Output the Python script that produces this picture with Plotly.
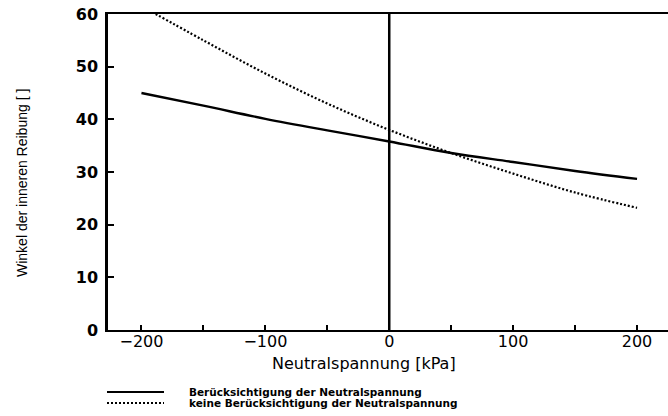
import plotly.graph_objects as go

# Data
neutralspannung = [-200, -150, -100, -50, 0, 50, 100, 150, 200]
mit_neutral = [45.0, 42.6, 40.1, 37.9, 35.8, 33.6, 31.9, 30.2, 28.7]
ohne_neutral = [61.5, 55.0, 48.7, 43.0, 38.0, 33.6, 29.7, 26.1, 23.2]
zero_x = [0, 0]
zero_y = [0, 60]

legend_labels = ["Berücksichtigung der Neutralspannung",
                 "keine Berücksichtigung der Neutralspannung"]

W, H = 668, 416
ml, mr, mt, mb = 108, 0, 14, 86
pw, ph = W - ml - mr, H - mt - mb

def px_x(p):
    return (p - ml) / pw

def px_y(p):
    return (H - mb - p) / ph

fig = go.Figure()
fig.add_trace(go.Scatter(x=zero_x, y=zero_y, mode="lines",
                         line=dict(color="black", width=2.5), showlegend=False, hoverinfo="skip"))
fig.add_trace(go.Scatter(x=neutralspannung, y=ohne_neutral, mode="lines",
                         line=dict(color="black", width=2.2, dash="2px,2px", shape="spline"),
                         name=legend_labels[1], showlegend=False))
fig.add_trace(go.Scatter(x=neutralspannung, y=mit_neutral, mode="lines",
                         line=dict(color="black", width=2.4, shape="spline"),
                         name=legend_labels[0], showlegend=False))

fig.update_xaxes(range=[-227, 225], tick0=0, dtick=100, ticks="inside", ticklen=5,
                 tickwidth=1.5, tickcolor="black", showline=True, linecolor="black",
                 linewidth=2, mirror=True, showgrid=False, zeroline=False,
                 ticklabelstandoff=-4,
                 minor=dict(dtick=50, ticks="inside", ticklen=5, tickwidth=1.5, tickcolor="black"),
                 tickfont=dict(family="DejaVu Sans", size=16, color="black"))
fig.update_yaxes(range=[0, 60], dtick=10, ticks="inside", ticklen=6, tickwidth=1.5,
                 tickcolor="black", showline=True, linecolor="black", linewidth=2.5,
                 showgrid=False, zeroline=False, ticklabelstandoff=4,
                 tickfont=dict(family="DejaVu Sans", size=16, color="black", weight="bold"))

annotations = [
    dict(text="Neutralspannung [kPa]", xref="paper", yref="paper", x=px_x(364), y=px_y(363),
         xanchor="center", yanchor="middle", showarrow=False,
         font=dict(family="DejaVu Sans", size=16, color="black")),
    dict(text="Winkel der inneren Reibung [ ]", xref="paper", yref="paper", x=px_x(22), y=px_y(183),
         xanchor="center", yanchor="middle", textangle=-90, showarrow=False,
         font=dict(family="Liberation Sans", size=14, color="black")),
]
shapes = []
rows = [(392, "solid"), (403, "2px,2px")]
for (yp, dash), label in zip(rows, legend_labels):
    annotations.append(dict(text=label, xref="paper", yref="paper", x=px_x(187), y=px_y(yp),
                            xanchor="left", yanchor="middle", showarrow=False,
                            font=dict(family="DejaVu Sans", size=10.5, color="black", weight="bold")))
    shapes.append(dict(type="line", xref="paper", yref="paper", x0=px_x(107), x1=px_x(164),
                       y0=px_y(yp), y1=px_y(yp), line=dict(color="black", width=1.8, dash=dash)))

fig.update_layout(width=W, height=H, margin=dict(l=ml, r=mr, t=mt, b=mb),
                  paper_bgcolor="white", plot_bgcolor="white",
                  annotations=annotations, shapes=shapes, showlegend=False)

fig.write_html("out.html")
